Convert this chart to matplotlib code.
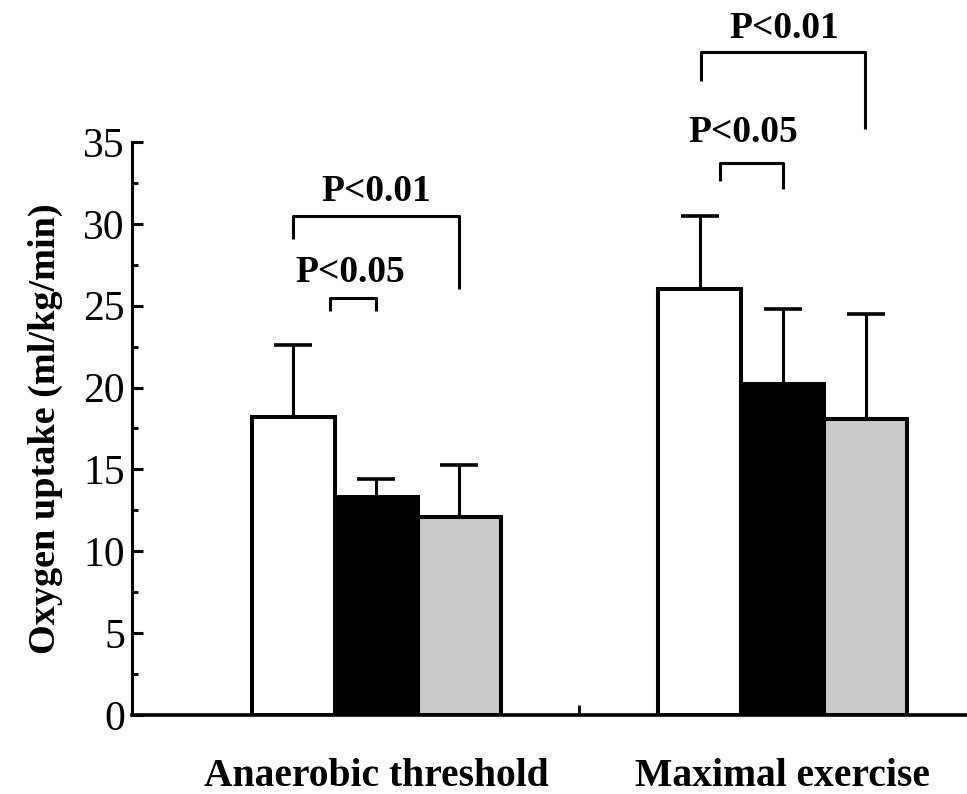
import numpy as np
import matplotlib
matplotlib.use('Agg')
import matplotlib.pyplot as plt
from matplotlib.ticker import MultipleLocator

plt.rcParams['font.family'] = ['Liberation Serif', 'DejaVu Serif']

# datos
groups = ['Anaerobic threshold', 'Maximal exercise']
white_means = [18.2, 26.0]
white_err = [4.4, 4.5]
black_means = [13.3, 20.2]
black_err = [1.1, 4.6]
gray_means = [12.1, 18.1]
gray_err = [3.2, 6.4]

# comparaciones: (grupo, x izq, x der, altura, pata izq, pata der, etiqueta)
brackets = [
    (0, -1.0, 1.0, 30.5, 29.1, 26.0, 'P<0.01'),
    (0, -0.55, 0.0, 25.5, 24.7, 24.7, 'P<0.05'),
    (1, -0.76, 0.0, 33.7, 32.6, 32.1, 'P<0.05'),
    (1, -0.99, 0.99, 40.5, 38.7, 35.8, 'P<0.01'),
]
label_pos = [(0.0, 32.0), (-0.31, 27.0), (-0.47, 35.6), (0.02, 41.9)]

centers = np.array([0.0, 4.9])
w = 1.0

fig = plt.figure(figsize=(9.67, 7.94), dpi=100)
ax = fig.add_axes([0.1365, 0.0995, 0.8635, 0.7217])

series = [(white_means, white_err, 'white'),
          (black_means, black_err, 'black'),
          (gray_means, gray_err, '#c9c9c9')]
for k, (m, e, c) in enumerate(series):
    x = centers + (k - 1) * w
    ax.bar(x, m, width=w, color=c, edgecolor='black', linewidth=2.9, zorder=3)
    ax.errorbar(x, m, yerr=[np.zeros(len(m)), e], fmt='none', ecolor='black',
                elinewidth=2.2, capsize=14, capthick=2.6, zorder=2)

for (g, xl, xr, top, bl, br, lab), (tx, ty) in zip(brackets, label_pos):
    c = centers[g]
    ax.plot([c + xl, c + xl, c + xr, c + xr], [bl, top, top, br],
            color='black', lw=2.2, clip_on=False, solid_capstyle='butt')
    ax.text(c + tx, ty, lab, ha='center', va='center', fontsize=27,
            fontweight='bold')

ax.set_xlim(-2.94, 7.12)
ax.set_ylim(0, 35)
ax.spines['top'].set_visible(False)
ax.spines['right'].set_visible(False)
ax.spines['left'].set_linewidth(2.2)
ax.spines['bottom'].set_linewidth(2.6)

ax.yaxis.set_major_locator(MultipleLocator(5))
ax.yaxis.set_minor_locator(MultipleLocator(2.5))
ax.tick_params(axis='y', which='major', direction='in', length=8, width=2.2,
               labelsize=30, pad=5)
ax.tick_params(axis='y', which='minor', direction='in', length=4, width=2)

ax.set_xticks(centers)
ax.set_xticklabels(groups, fontsize=28.5, fontweight='bold')
ax.set_xticks([(centers[0] + centers[1]) / 2], minor=True)
ax.tick_params(axis='x', which='major', length=0, pad=31)
ax.tick_params(axis='x', which='minor', direction='in', length=7, width=2)

ax.set_ylabel('Oxygen uptake (ml/kg/min)', fontsize=27.5, fontweight='bold',
              labelpad=15)

plt.savefig('out.png', dpi=100)
